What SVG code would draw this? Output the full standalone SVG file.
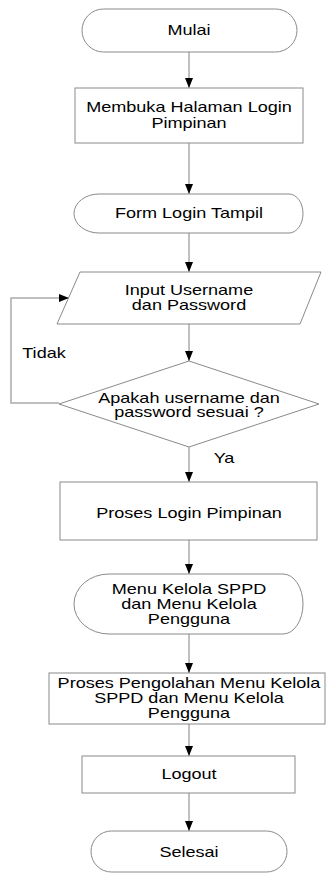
<svg xmlns="http://www.w3.org/2000/svg" width="326" height="873" viewBox="0 0 326 873">
<defs>
<style>
.shape{fill:#fff;stroke:#8a8a8a;stroke-width:1}
.conn{fill:none;stroke:#ababab;stroke-width:1.5}
.t{font-family:"Liberation Sans",Arial,sans-serif;font-size:14px;fill:#000;text-anchor:middle}
</style>
<marker id="ah" viewBox="0 0 10 8" refX="10" refY="4" markerWidth="10" markerHeight="8" markerUnits="userSpaceOnUse" orient="auto">
<path d="M0,0 L10,4 L0,8 Z" fill="#000"/>
</marker>
</defs>
<rect width="326" height="873" fill="#fff"/>
<g id="connectors">
<line class="conn" x1="189" y1="52" x2="189" y2="88" marker-end="url(#ah)"/>
<line class="conn" x1="189" y1="143" x2="189" y2="194" marker-end="url(#ah)"/>
<line class="conn" x1="189" y1="233" x2="189" y2="272" marker-end="url(#ah)"/>
<line class="conn" x1="189" y1="324" x2="189" y2="361" marker-end="url(#ah)"/>
<line class="conn" x1="189" y1="447" x2="189" y2="482" marker-end="url(#ah)"/>
<line class="conn" x1="189" y1="540" x2="189" y2="574" marker-end="url(#ah)"/>
<line class="conn" x1="189" y1="634" x2="189" y2="673" marker-end="url(#ah)"/>
<line class="conn" x1="189" y1="724" x2="189" y2="756" marker-end="url(#ah)"/>
<line class="conn" x1="189" y1="793" x2="189" y2="831" marker-end="url(#ah)"/>
<polyline class="conn" points="59,403 11,403 11,298 69,298" marker-end="url(#ah)"/>
<text class="t" transform="translate(44 0) scale(1.29 1)" x="0" y="358">Tidak</text>
<text class="t" transform="translate(224 0) scale(1.29 1)" x="0" y="463">Ya</text>
</g>
<g id="mulai">
<rect class="shape" x="82" y="9" width="215" height="43" rx="21.5" ry="21.5"/>
<text class="t" transform="translate(189 0) scale(1.29 1)" x="0" y="35.5">Mulai</text>
</g>
<g id="buka-login">
<rect class="shape" x="75" y="88" width="228" height="55"/>
<text class="t" transform="translate(189 0) scale(1.29 1)" x="0" y="112.5">Membuka Halaman Login</text>
<text class="t" transform="translate(189 0) scale(1.29 1)" x="0" y="128">Pimpinan</text>
</g>
<g id="form-login">
<path class="shape" d="M99,194 L289,194 A14,19.5 0 0 1 289,233 L99,233 A25,19.5 0 0 1 99,194 Z"/>
<text class="t" transform="translate(189 0) scale(1.29 1)" x="0" y="218.5">Form Login Tampil</text>
</g>
<g id="input">
<polygon class="shape" points="80,272 321,272 300,324 57,324"/>
<text class="t" transform="translate(189 0) scale(1.29 1)" x="0" y="295">Input Username</text>
<text class="t" transform="translate(189 0) scale(1.29 1)" x="0" y="310.5">dan Password</text>
</g>
<g id="decision">
<polygon class="shape" points="189,361 319,404 189,447 59,404"/>
<text class="t" transform="translate(189 0) scale(1.29 1)" x="0" y="403">Apakah username dan</text>
<text class="t" transform="translate(189 0) scale(1.29 1)" x="0" y="417">password sesuai ?</text>
</g>
<g id="proses-login">
<rect class="shape" x="60" y="482" width="257" height="58"/>
<text class="t" transform="translate(189 0) scale(1.29 1)" x="0" y="518.5">Proses Login Pimpinan</text>
</g>
<g id="menu">
<path class="shape" d="M109,574 L283,574 A20,30 0 0 1 283,634 L109,634 A35,30 0 0 1 109,574 Z"/>
<text class="t" transform="translate(189 0) scale(1.29 1)" x="0" y="594">Menu Kelola SPPD</text>
<text class="t" transform="translate(189 0) scale(1.29 1)" x="0" y="609">dan Menu Kelola</text>
<text class="t" transform="translate(189 0) scale(1.29 1)" x="0" y="624">Pengguna</text>
</g>
<g id="pengolahan">
<rect class="shape" x="49" y="673" width="276" height="51"/>
<text class="t" transform="translate(189 0) scale(1.29 1)" x="0" y="688">Proses Pengolahan Menu Kelola</text>
<text class="t" transform="translate(189 0) scale(1.29 1)" x="0" y="703">SPPD dan Menu Kelola</text>
<text class="t" transform="translate(189 0) scale(1.29 1)" x="0" y="718">Pengguna</text>
</g>
<g id="logout">
<rect class="shape" x="82" y="756" width="213" height="37"/>
<text class="t" transform="translate(189 0) scale(1.29 1)" x="0" y="779">Logout</text>
</g>
<g id="selesai">
<rect class="shape" x="91" y="831" width="196" height="41" rx="20.5" ry="20.5"/>
<text class="t" transform="translate(189 0) scale(1.29 1)" x="0" y="857">Selesai</text>
</g>
</svg>
